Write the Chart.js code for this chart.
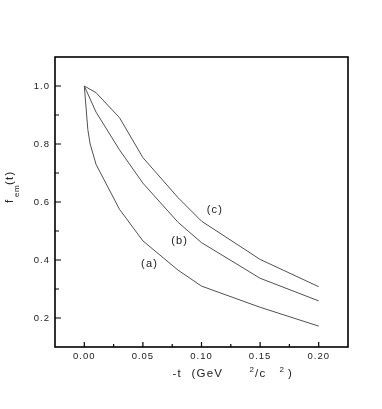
<!DOCTYPE html>
<html>
<head>
<meta charset="utf-8">
<script src="https://cdn.jsdelivr.net/npm/chart.js@4.4.1/dist/chart.umd.min.js"></script>
<style>
  html, body { margin: 0; padding: 0; background: #fff; }
  canvas { display: block; }
</style>
</head>
<body>
<canvas id="formFactor" width="382" height="409"></canvas>
<script>
// -t values (GeV^2/c^2) and f_em(t) for the three curves
const tA = [0, 0.003, 0.005, 0.01, 0.03, 0.05, 0.08, 0.10, 0.15, 0.20];
const fA = [1.0, 0.85, 0.80, 0.73, 0.575, 0.466, 0.365, 0.31, 0.237, 0.172];
const tB = [0, 0.01, 0.03, 0.05, 0.08, 0.10, 0.15, 0.20];
const fB = [1.0, 0.91, 0.78, 0.665, 0.53, 0.46, 0.337, 0.259];
const tC = [0, 0.01, 0.03, 0.05, 0.08, 0.10, 0.15, 0.20];
const fC = [1.0, 0.977, 0.891, 0.753, 0.615, 0.534, 0.402, 0.308];

// curve labels and where they sit (data coords)
const curveLabels = ['(a)', '(b)', '(c)'];
const labelT = [0.0557, 0.0814, 0.1114];
const labelF = [0.386, 0.4655, 0.572];

// ticks
const xTicks = [0, 0.05, 0.10, 0.15, 0.20];
const xMinor = [0.025, 0.075, 0.125, 0.175];
const yTicks = [0.2, 0.4, 0.6, 0.8, 1.0];
const yMinor = [0.3, 0.5, 0.7, 0.9];

const FONT = "'Liberation Sans', Arial, sans-serif";

function toPoints(xs, ys) {
    return xs.map((x, i) => ({ x: x, y: ys[i] }));
}

function curve(xs, ys) {
    return {
        data: toPoints(xs, ys),
        borderColor: '#505050',
        borderWidth: 1,
        pointRadius: 0,
        tension: 0,
        fill: false
    };
}

// frame, inward ticks, curve labels, axis titles
const decorations = {
    id: 'decorations',
    beforeDraw(chart) {
        chart.ctx.letterSpacing = '1px';
    },
    afterDraw(chart) {
        const ctx = chart.ctx;
        const a = chart.chartArea;
        const xs = chart.scales.x;
        const ys = chart.scales.y;
        ctx.save();
        ctx.strokeStyle = '#000';
        ctx.lineWidth = 1.6;
        ctx.strokeRect(a.left, a.top, a.right - a.left, a.bottom - a.top);

        ctx.lineWidth = 1.2;
        ctx.beginPath();
        xTicks.forEach(v => {
            const p = xs.getPixelForValue(v);
            ctx.moveTo(p, a.bottom); ctx.lineTo(p, a.bottom - 5);
        });
        xMinor.forEach(v => {
            const p = xs.getPixelForValue(v);
            ctx.moveTo(p, a.bottom); ctx.lineTo(p, a.bottom - 3);
        });
        yTicks.forEach(v => {
            const p = ys.getPixelForValue(v);
            ctx.moveTo(a.left, p); ctx.lineTo(a.left + 6, p);
        });
        yMinor.forEach(v => {
            const p = ys.getPixelForValue(v);
            ctx.moveTo(a.left, p); ctx.lineTo(a.left + 4, p);
        });
        ctx.stroke();

        ctx.fillStyle = '#222';
        ctx.letterSpacing = '1.2px';
        ctx.textAlign = 'center';
        ctx.textBaseline = 'middle';
        ctx.font = '11px ' + FONT;
        curveLabels.forEach((txt, i) => {
            ctx.fillText(txt, xs.getPixelForValue(labelT[i]), ys.getPixelForValue(labelF[i]));
        });

        // x title: -t (GeV ^2/c ^2)
        ctx.textAlign = 'left';
        ctx.textBaseline = 'alphabetic';
        ctx.font = '11.5px ' + FONT;
        ctx.fillText('-t', 172.5, 376.5);
        ctx.fillText('(GeV', 191.5, 376.5);
        ctx.fillText('/c', 255, 376.5);
        ctx.fillText(')', 288, 376.5);
        ctx.font = '8px ' + FONT;
        ctx.fillText('2', 249.5, 372);
        ctx.fillText('2', 279.5, 372);

        // y title: f_em (t), rotated
        ctx.translate(13, 203);
        ctx.rotate(-Math.PI / 2);
        ctx.font = '11.5px ' + FONT;
        ctx.fillText('f', 0, 0);
        ctx.fillText('(t)', 18, 0);
        ctx.font = '8px ' + FONT;
        ctx.letterSpacing = '0.5px';
        ctx.fillText('em', 6, 5.5);
        ctx.restore();
    }
};

new Chart(document.getElementById('formFactor').getContext('2d'), {
    type: 'line',
    data: {
        datasets: [curve(tA, fA), curve(tB, fB), curve(tC, fC)]
    },
    options: {
        responsive: false,
        animation: false,
        events: [],
        layout: {
            padding: { left: 0, top: 57, right: 34, bottom: 32 }
        },
        plugins: {
            legend: { display: false },
            tooltip: { enabled: false }
        },
        scales: {
            x: {
                type: 'linear',
                min: -0.025,
                max: 0.225,
                grid: { display: false, drawTicks: false },
                border: { display: false },
                afterBuildTicks: s => { s.ticks = xTicks.map(v => ({ value: v })); },
                afterFit: s => { s.height = 30; },
                ticks: {
                    padding: 4,
                    color: '#222',
                    font: { family: FONT, size: 9.5 },
                    maxRotation: 0,
                    callback: v => v.toFixed(2)
                }
            },
            y: {
                type: 'linear',
                min: 0.1,
                max: 1.1,
                grid: { display: false, drawTicks: false },
                border: { display: false },
                afterBuildTicks: s => { s.ticks = yTicks.map(v => ({ value: v })); },
                afterFit: s => { s.width = 55; },
                ticks: {
                    padding: 5,
                    color: '#222',
                    font: { family: FONT, size: 9.5 },
                    callback: v => v.toFixed(1)
                }
            }
        }
    },
    plugins: [decorations]
});
</script>
</body>
</html>
